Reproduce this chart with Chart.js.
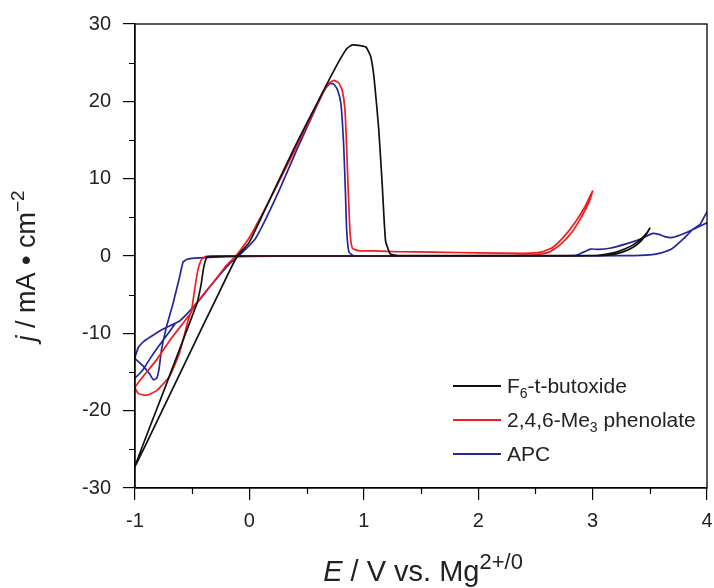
<!DOCTYPE html>
<html>
<head>
<meta charset="utf-8">
<title>CV</title>
<script src="https://cdn.jsdelivr.net/npm/chart.js@4.4.1/dist/chart.umd.min.js"></script>
<style>
    body { margin: 0; background: #fff; }
    #cv { display: block; }
</style>
</head>
<body>
<canvas id="cv" width="714" height="588"></canvas>
<script>
// series: potential E (V) and current density j (mA/cm2)
var seriesNames = ['F6-t-butoxide', '2,4,6-Me3 phenolate', 'APC'];
var seriesColors = ['#111111', '#f21c1c', '#25259c'];

var blackE = [1.3, 2.0, 2.8, 3.05, 3.18, 3.28, 3.36, 3.43, 3.48, 3.5, 3.47, 3.42, 3.35, 3.26, 3.15, 3.0, 2.5, 1.5, 0.5, 0.0,
    -0.3, -0.37, -0.40, -0.42, -0.44, -0.46, -0.75, -1.0, -0.75, -0.5, -0.3, -0.11, 0.0, 0.2, 0.4, 0.6, 0.75, 0.85, 0.9, 0.97,
    1.02, 1.06, 1.09, 1.13, 1.16, 1.19, 1.23, 1.3];
var blackJ = [0.05, 0.05, 0.05, 0.1, 0.4, 0.9, 1.5, 2.3, 3.1, 3.6, 2.8, 1.9, 1.1, 0.5, 0.15, 0.05, 0.0, 0.0, 0.0, 0.0,
    -0.05, -0.1, -1.5, -3.5, -5.0, -6.2, -17.5, -27.2, -19.6, -11.9, -5.8, -0.1, 1.8, 8.0, 14.2, 20.0, 24.3, 26.8, 27.3, 27.2,
    27.0, 25.8, 23.0, 16.5, 9.5, 2.0, 0.3, 0.05];

var redE = [1.3, 1.6, 2.0, 2.4, 2.55, 2.65, 2.75, 2.85, 2.93, 3.0, 2.97, 2.9, 2.82, 2.72, 2.62, 2.5, 2.2, 1.5, 0.5, 0.0,
    -0.3, -0.38, -0.42, -0.45, -0.47, -0.49, -0.51, -0.56, -0.69, -0.81, -0.93, -1.0, -0.97, -0.9, -0.81, -0.7, -0.61, -0.535, -0.5, -0.42,
    -0.32, -0.2, -0.12, 0.0, 0.2, 0.4, 0.55, 0.65, 0.7, 0.74, 0.78, 0.81, 0.835, 0.85, 0.865, 0.88, 0.9, 0.95, 1.1, 1.3];
var redJ = [0.55, 0.5, 0.4, 0.35, 0.5, 1.1, 2.5, 4.4, 6.3, 8.4, 7.0, 5.0, 3.1, 1.5, 0.5, 0.15, 0.05, 0.0, 0.0, 0.0,
    0.0, -0.05, -0.5, -1.8, -3.5, -5.5, -7.3, -8.3, -10.8, -13.4, -15.6, -17.0, -17.8, -18.0, -17.4, -15.6, -12.5, -8.3, -7.0, -5.3,
    -3.5, -1.2, 0.0, 2.4, 7.9, 13.8, 18.3, 21.3, 22.4, 22.7, 22.4, 21.5, 19.0, 14.0, 8.0, 3.0, 1.0, 0.7, 0.65, 0.55];

// null splits the APC trace into two pieces
var blueE = [1.3, 2.0, 2.85, 2.92, 2.98, 3.05, 3.15, 3.3, 3.42, 3.52, 3.58, 3.63, 3.7, 3.8, 3.9, 4.0, 4.05, 4.05, 4.0, 3.94,
    3.88, 3.8, 3.7, 3.6, 3.5, 3.3, 2.5, 1.5, 0.5, 0.0, -0.2, -0.4, -0.5, -0.55, -0.58, -0.61, -0.667, -0.724, -0.768, -0.79,
    -0.81, -0.84, -0.87, -0.93, -1.0, -0.97, -0.92, -0.87, -0.75, -0.61, -0.46, -0.32, -0.17, -0.08, 0.05, 0.15, 0.267, 0.413, 0.558, 0.66,
    0.704, 0.74, 0.77, 0.8, 0.825, 0.84, 0.85, 0.87, 0.91, 1.0, 1.3, null, -1.0, -0.93, -0.87, -0.8, -0.65];
var blueJ = [0.0, 0.0, 0.05, 0.5, 0.9, 0.85, 1.0, 1.6, 2.2, 2.9, 2.8, 2.5, 2.4, 2.9, 3.6, 4.3, 4.7, 6.3, 5.7, 4.1,
    3.5, 2.3, 1.0, 0.4, 0.15, 0.05, 0.0, 0.0, 0.0, -0.05, -0.1, -0.2, -0.3, -0.45, -0.8, -2.7, -6.1, -9.1, -12.1, -14.6,
    -15.8, -16.0, -15.3, -14.2, -13.2, -11.8, -11.0, -10.5, -9.4, -8.4, -6.1, -3.5, -0.95, 0.2, 2.2, 5.0, 8.7, 13.7, 18.4, 21.6,
    22.3, 22.2, 21.5, 19.7, 14.0, 8.0, 3.4, 0.5, 0.05, 0.0, 0.0, null, -15.8, -14.7, -13.3, -11.8, -8.8];

// axes
var xRange = [-1, 4];
var yRange = [-30, 30];
var xMinorTicks = [-0.5, 0.5, 1.5, 2.5, 3.5];
var yMinorTicks = [-25, -15, -5, 5, 15, 25];

var FONT = "'Liberation Sans', Arial, sans-serif";

function toPoints(xs, ys) {
    return xs.map(function (v, i) {
        return { x: v, y: ys[i] };
    });
}

// draws a run of text pieces (normal / italic / sub / sup) starting at x
function drawParts(ctx, parts, x, y, align) {
    var total = 0;
    parts.forEach(function (p) {
        ctx.font = (p.italic ? 'italic ' : '') + p.size + 'px ' + FONT;
        p.w = ctx.measureText(p.t).width;
        total += p.w;
    });
    var cx = x;
    if (align === 'center') cx = x - total / 2;
    parts.forEach(function (p) {
        ctx.font = (p.italic ? 'italic ' : '') + p.size + 'px ' + FONT;
        ctx.fillText(p.t, cx, y + (p.dy || 0));
        cx += p.w;
    });
}

var decorPlugin = {
    id: 'decor',
    afterDraw: function (chart) {
        var ctx = chart.ctx;
        var a = chart.chartArea;
        var sx = chart.scales.x;
        var sy = chart.scales.y;
        ctx.save();

        // box
        ctx.strokeStyle = '#000';
        ctx.lineWidth = 1.3;
        ctx.strokeRect(a.left, a.top, a.right - a.left, a.bottom - a.top);

        // minor ticks
        ctx.lineWidth = 1.2;
        ctx.beginPath();
        xMinorTicks.forEach(function (v) {
            var p = Math.round(sx.getPixelForValue(v)) + 0.5;
            ctx.moveTo(p, a.bottom);
            ctx.lineTo(p, a.bottom + 6);
        });
        yMinorTicks.forEach(function (v) {
            var p = Math.round(sy.getPixelForValue(v)) + 0.5;
            ctx.moveTo(a.left, p);
            ctx.lineTo(a.left - 6, p);
        });
        ctx.stroke();

        ctx.fillStyle = '#222';
        ctx.textBaseline = 'alphabetic';

        // x title
        drawParts(ctx, [
            { t: 'E', size: 29, italic: true },
            { t: ' / V vs. Mg', size: 29 },
            { t: '2+/0', size: 22, dy: -12 }
        ], (a.left + a.right) / 2 + 2, 581, 'center');

        // y title
        ctx.save();
        ctx.translate(35, 266);
        ctx.rotate(-Math.PI / 2);
        drawParts(ctx, [
            { t: 'j', size: 27, italic: true },
            { t: ' / mA \u2022 cm', size: 27 },
            { t: '\u22122', size: 19, dy: -11 }
        ], 0, 0, 'center');
        ctx.restore();

        // legend
        var labels = [
            [{ t: 'F', size: 21 }, { t: '6', size: 14, dy: 5 }, { t: '-t-butoxide', size: 21 }],
            [{ t: '2,4,6-Me', size: 21 }, { t: '3', size: 14, dy: 5 }, { t: ' phenolate', size: 21 }],
            [{ t: 'APC', size: 21 }]
        ];
        var lx = a.right - 254;
        var ly = a.top + 362;
        labels.forEach(function (parts, i) {
            var yy = ly + i * 34;
            ctx.strokeStyle = seriesColors[i];
            ctx.lineWidth = 1.8;
            ctx.beginPath();
            ctx.moveTo(lx, yy);
            ctx.lineTo(lx + 48, yy);
            ctx.stroke();
            ctx.fillStyle = '#222';
            drawParts(ctx, parts, lx + 54, yy + 7, 'left');
        });

        ctx.restore();
    }
};

function createChart() {
    var ctx = document.getElementById('cv').getContext('2d');
    var traces = [[blackE, blackJ], [redE, redJ], [blueE, blueJ]];

    var datasets = traces.map(function (tr, i) {
        return {
            label: seriesNames[i],
            data: toPoints(tr[0], tr[1]),
            showLine: true,
            borderColor: seriesColors[i],
            backgroundColor: seriesColors[i],
            borderWidth: 1.7,
            pointRadius: 0,
            tension: 0.15,
            spanGaps: false
        };
    });

    var tickFont = { family: FONT, size: 20 };

    return new Chart(ctx, {
        type: 'scatter',
        data: { datasets: datasets },
        options: {
            responsive: false,
            devicePixelRatio: 1,
            animation: false,
            layout: { padding: { top: 23, right: 0, left: 0, bottom: 0 } },
            plugins: {
                legend: { display: false },
                tooltip: { enabled: false }
            },
            scales: {
                x: {
                    type: 'linear',
                    min: xRange[0],
                    max: xRange[1],
                    afterFit: function (s) { s.height = 100; s.paddingRight = 7; },
                    ticks: { stepSize: 1, font: tickFont, color: '#222', padding: 9, maxRotation: 0 },
                    grid: { drawOnChartArea: false, drawTicks: true, tickLength: 12, color: '#000', lineWidth: 1.2 },
                    border: { color: '#000', width: 1.3 }
                },
                y: {
                    type: 'linear',
                    min: yRange[0],
                    max: yRange[1],
                    afterFit: function (s) { s.width = 135; },
                    ticks: { stepSize: 10, font: tickFont, color: '#222', padding: 12 },
                    grid: { drawOnChartArea: false, drawTicks: true, tickLength: 12, color: '#000', lineWidth: 1.2 },
                    border: { color: '#000', width: 1.3 }
                }
            }
        },
        plugins: [decorPlugin]
    });
}

var chartInstance = createChart();
console.log('chart ready', chartInstance.chartArea);
</script>
</body>
</html>
